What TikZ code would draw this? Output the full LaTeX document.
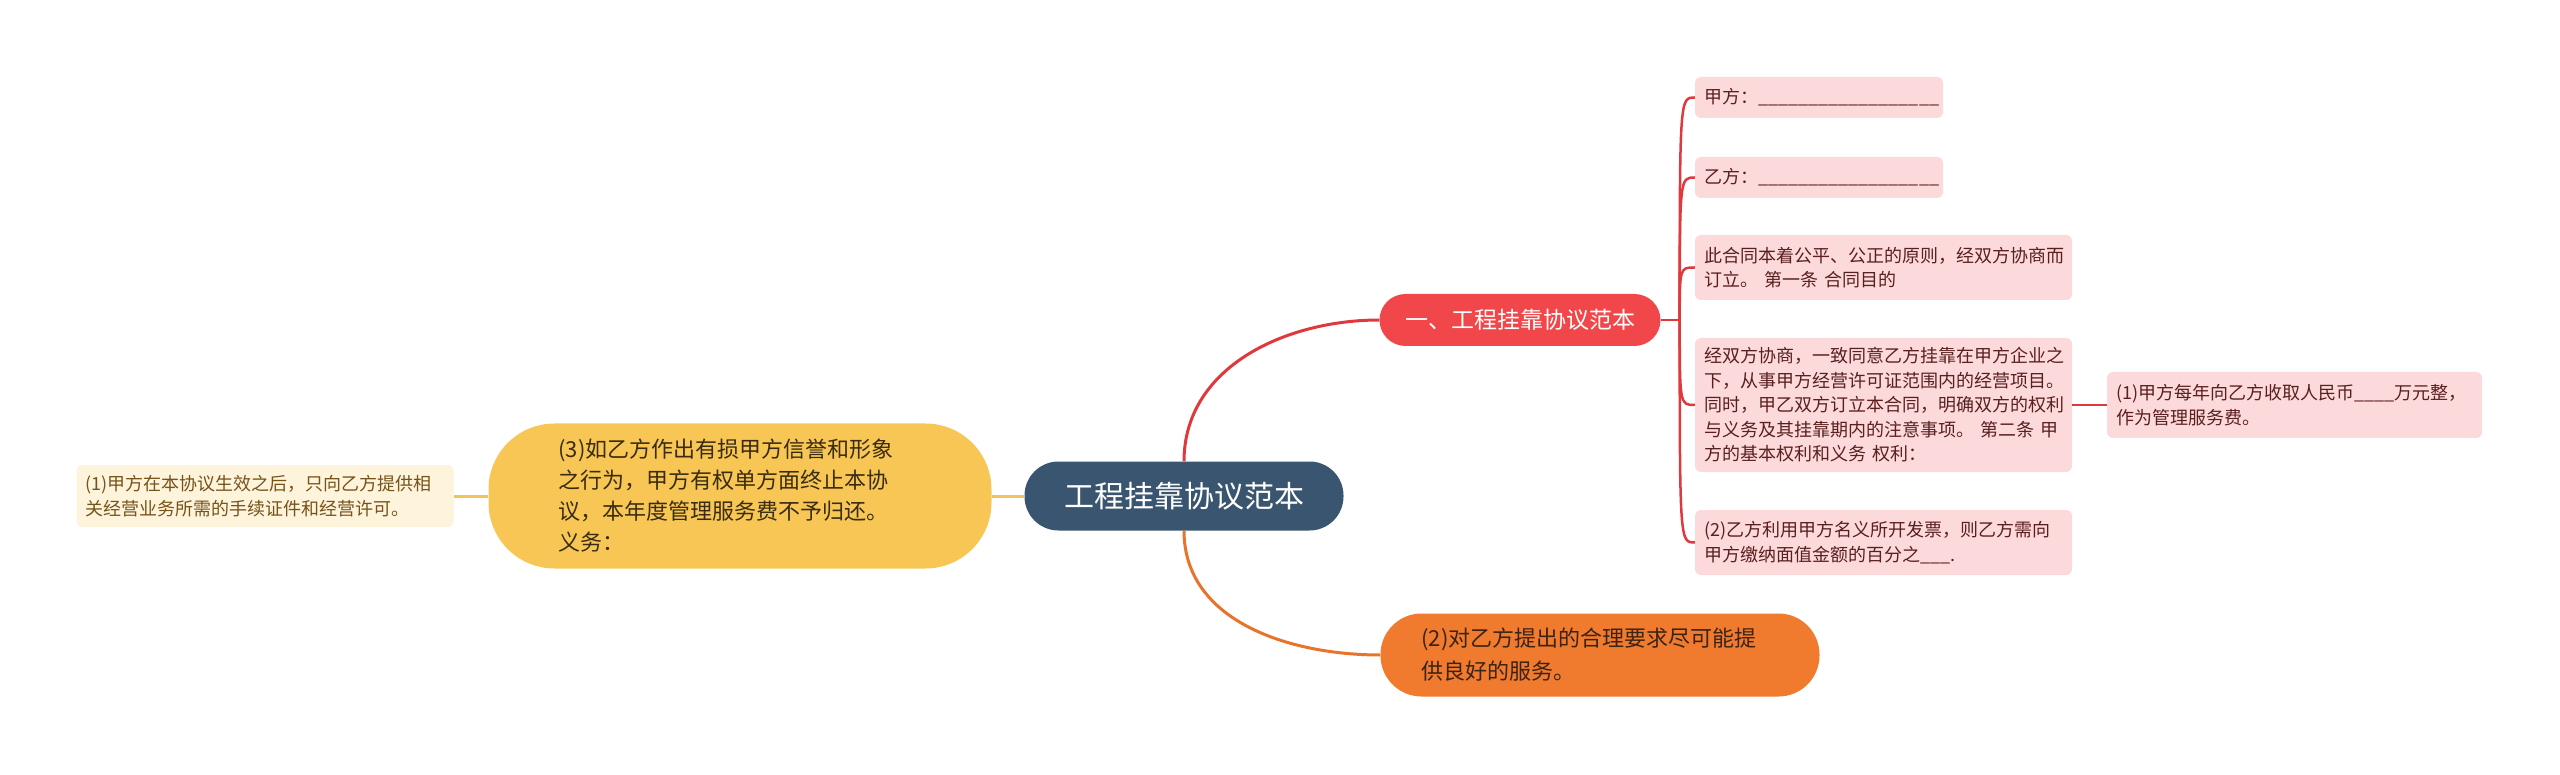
\documentclass[tikz,border=0pt]{standalone}
\usepackage{fontspec}
\setmainfont{Noto Sans CJK SC}
\definecolor{rootfill}{HTML}{3A5570}
\definecolor{redfill}{HTML}{F2474A}
\definecolor{redline}{HTML}{E0393D}
\definecolor{pinkfill}{HTML}{FCDADB}
\definecolor{pinktext}{HTML}{5A1F1F}
\definecolor{orangefill}{HTML}{F07A2E}
\definecolor{orangeline}{HTML}{E8732B}
\definecolor{orangetext}{HTML}{3A2416}
\definecolor{yellowfill}{HTML}{F7C654}
\definecolor{yellowline}{HTML}{F2C25C}
\definecolor{yellowtext}{HTML}{3A2C12}
\definecolor{creamfill}{HTML}{FEF3DB}
\definecolor{creamtext}{HTML}{76531A}
\begin{document}
\begin{tikzpicture}[x=1pt,y=-1pt,
  leafR/.style={fill=pinkfill, rounded corners=6pt, text=pinktext, align=left,
    font=\fontsize{18pt}{24.5pt}\selectfont, inner xsep=9pt, inner ysep=0pt, anchor=center},
  pill/.style={align=left, inner xsep=0pt, inner ysep=0pt, anchor=center},
  redcon/.style={draw=redline, line width=2.5pt},
  maincon/.style={line width=3pt}]
\useasboundingbox (0,0) rectangle (2560,775);

% main nodes
\node[pill, fill=rootfill, text=white, rounded corners=34pt, align=center,
  minimum width=319pt, minimum height=69pt, font=\fontsize{30pt}{36pt}\selectfont]
  (root) at (1184,496) {工程挂靠协议范本};
\node[pill, fill=redfill, text=white, rounded corners=26pt, align=center,
  minimum width=281pt, minimum height=52pt, font=\fontsize{23pt}{28pt}\selectfont]
  (red) at (1520,320) {一、工程挂靠协议范本};
\node[pill, fill=orangefill, text=orangetext, rounded corners=41pt,
  inner xsep=41pt, text width=357pt, minimum height=83pt, font=\fontsize{22pt}{33pt}\selectfont]
  (orange) at (1600,655) {(2)对乙方提出的合理要求尽可能提\\供良好的服务。};
\node[pill, fill=yellowfill, text=yellowtext, rounded corners=66pt,
  inner xsep=70pt, text width=363pt, minimum height=145pt, font=\fontsize{22pt}{31pt}\selectfont]
  (yellow) at (740,496) {(3)如乙方作出有损甲方信誉和形象\\之行为，甲方有权单方面终止本协\\议，本年度管理服务费不予归还。\\义务：};
\node[pill, fill=creamfill, text=creamtext, rounded corners=6pt,
  inner xsep=9pt, text width=359pt, minimum height=62pt, font=\fontsize{18pt}{24.5pt}\selectfont]
  (left) at (265,496) {(1)甲方在本协议生效之后，只向乙方提供相\\关经营业务所需的手续证件和经营许可。};

% right leaves
\node[leafR, text width=230pt, minimum height=41pt] (jia) at (1819,97.5)
  {甲方：\_\_\_\_\_\_\_\_\_\_\_\_\_\_\_\_\_\_};
\node[leafR, text width=230pt, minimum height=41pt] (yi) at (1819,177.5)
  {乙方：\_\_\_\_\_\_\_\_\_\_\_\_\_\_\_\_\_\_};
\node[leafR, text width=359pt, minimum height=65pt] (ci) at (1883.5,267.5)
  {此合同本着公平、公正的原则，经双方协商而\\订立。 第一条 合同目的};
\node[leafR, text width=359pt, minimum height=134pt] (jing) at (1883.5,405)
  {经双方协商，一致同意乙方挂靠在甲方企业之\\下，从事甲方经营许可证范围内的经营项目。\\同时，甲乙双方订立本合同，明确双方的权利\\与义务及其挂靠期内的注意事项。 第二条 甲\\方的基本权利和义务 权利：};
\node[leafR, text width=359pt, minimum height=65pt] (er) at (1883.5,542.5)
  {(2)乙方利用甲方名义所开发票，则乙方需向\\甲方缴纳面值金额的百分之\_\_\_.};
\node[leafR, text width=357pt, minimum height=66pt] (nian) at (2294.5,405)
  {(1)甲方每年向乙方收取人民币\_\_\_\_万元整，\\作为管理服务费。};

% connectors
\draw[maincon, draw=redline] (root.north) to[out=90,in=180] (red.west);
\draw[maincon, draw=orangeline] (root.south) to[out=-90,in=180] (orange.west);
\draw[maincon, draw=yellowline] (root.west) -- (yellow.east);
\draw[maincon, draw=yellowline] (yellow.west) -- (left.east);

\draw[redcon] (red.east) -- ++(19,0) coordinate (rb);
\foreach \n in {jia,yi,ci,jing,er}
  \draw[redcon] (rb) .. controls (rb |- \n.west) .. (\n.west);
\draw[redcon] (jing.east) -- (nian.west);
\end{tikzpicture}
\end{document}
